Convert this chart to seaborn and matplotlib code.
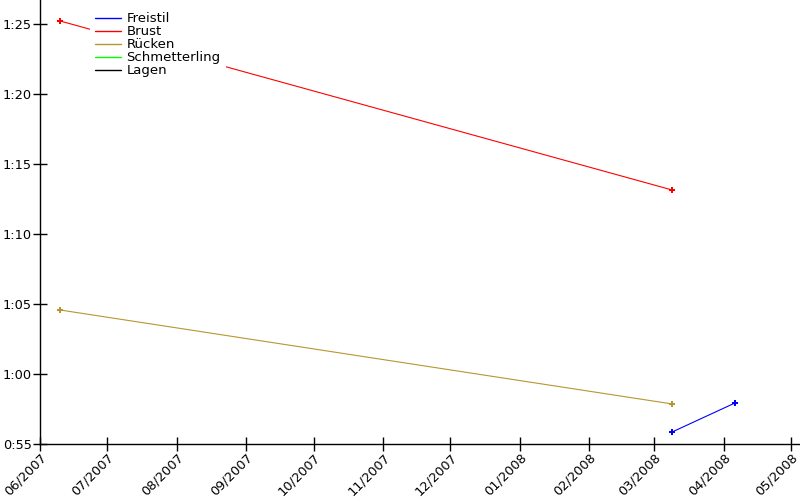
import numpy as np
import pandas as pd
import matplotlib
matplotlib.use("Agg")
import matplotlib.pyplot as plt
import matplotlib.dates as mdates
from matplotlib.lines import Line2D
from matplotlib.ticker import FuncFormatter, MultipleLocator
import seaborn as sns

# swim times in seconds, per stroke
styles = ["Freistil", "Brust", "Rücken", "Schmetterling", "Lagen"]
colors = ["#0000ff", "#ff0000", "#b8962e", "#00ff00", "#000000"]

freistil_dates = ["2008-03-09", "2008-04-06"]
freistil_secs = [55.86, 57.93]
brust_dates = ["2007-06-10", "2008-03-09"]
brust_secs = [85.21, 73.14]
ruecken_dates = ["2007-06-10", "2008-03-09"]
ruecken_secs = [64.57, 57.86]

df = pd.concat([
    pd.DataFrame({"date": pd.to_datetime(freistil_dates), "sec": freistil_secs, "style": "Freistil"}),
    pd.DataFrame({"date": pd.to_datetime(brust_dates), "sec": brust_secs, "style": "Brust"}),
    pd.DataFrame({"date": pd.to_datetime(ruecken_dates), "sec": ruecken_secs, "style": "Rücken"}),
], ignore_index=True)

sns.set_style("white")
plt.rcParams['font.family'] = ['DejaVu Sans']
plt.rcParams['font.size'] = 9
plt.rcParams['text.color'] = 'black'

fig = plt.figure(figsize=(8, 5), dpi=100)
ax = fig.add_axes([0.05, 0.112, 0.95, 0.888])

pal = dict(zip(styles, colors))
sns.lineplot(data=df, x="date", y="sec", hue="style", palette=pal,
             marker="P", markersize=4, markeredgewidth=0, linewidth=0.8,
             legend=False, ax=ax)

ax.set_xlim(pd.Timestamp("2007-06-01"), pd.Timestamp("2008-05-05"))
ax.set_ylim(55, 86.71)
ax.xaxis.set_major_locator(mdates.MonthLocator())
ax.xaxis.set_major_formatter(mdates.DateFormatter("%m/%Y"))
ax.yaxis.set_major_locator(MultipleLocator(5))
ax.yaxis.set_major_formatter(FuncFormatter(lambda v, p: "%d:%02d" % (int(v) // 60, int(round(v)) % 60)))
ax.tick_params(direction="inout", length=10, width=1, colors="black",
               labelsize=9.3, bottom=True, left=True)
ax.tick_params(axis="x", pad=0)
ax.tick_params(axis="y", pad=0.8)
for lbl in ax.get_xticklabels():
    lbl.set_rotation(45)
    lbl.set_ha("right")
    lbl.set_rotation_mode("anchor")
ax.set_xlabel("")
ax.set_ylabel("")

sns.despine(ax=ax)
for s in ["left", "bottom"]:
    ax.spines[s].set_color("black")
    ax.spines[s].set_linewidth(1)

# legend has a white box with no border, it hides the red line under it
handles = [Line2D([0], [0], color=c, lw=1) for c in colors]
leg = ax.legend(handles, styles, loc="upper left", bbox_to_anchor=(0.060, 0.993),
                frameon=True, fancybox=False, framealpha=1, facecolor="white",
                edgecolor="none", handlelength=2.0, handletextpad=0.4,
                labelspacing=0.0, fontsize=9.5, borderaxespad=0.3, labelcolor="black")

fig.savefig("out.png", dpi=100)
